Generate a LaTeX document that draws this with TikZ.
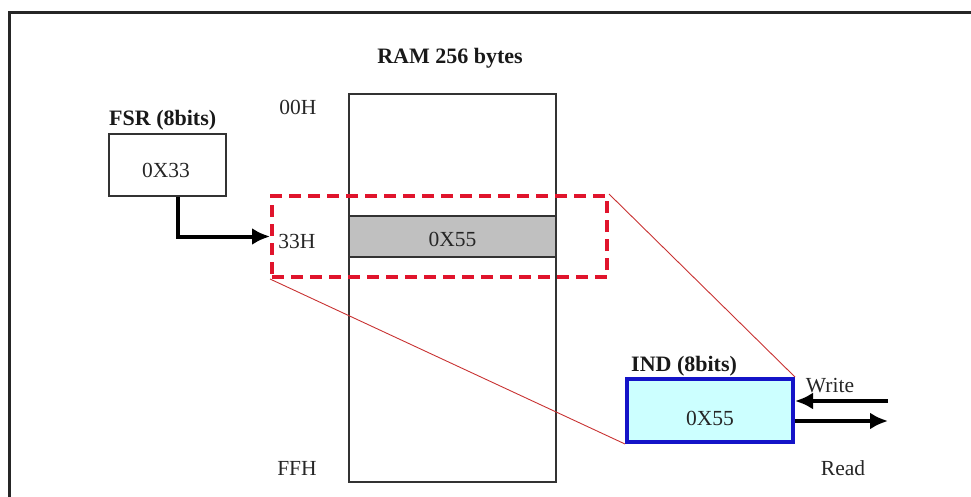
\documentclass[tikz,border=0pt]{standalone}
\usepackage{fontspec}
\setmainfont{Liberation Serif}
\usetikzlibrary{arrows.meta,positioning}
\definecolor{selred}{HTML}{E0142C}
\definecolor{thinred}{HTML}{C83232}
\definecolor{indblue}{HTML}{1414C8}
\definecolor{indfill}{HTML}{CCFFFF}
\definecolor{cellgray}{HTML}{C0C0C0}
\tikzset{
  txt/.style={font=\fontsize{21.5}{24}\selectfont, inner sep=0pt, text=black!85},
  btxt/.style={font=\fontsize{22}{25}\selectfont\bfseries, inner sep=0pt, text=black!90},
  box/.style={draw=black!80, line width=1.3pt, inner sep=0pt},
  fatarrow/.style={line width=4pt, -{Latex[length=18pt,width=17pt]}},
}
\begin{document}
\begin{tikzpicture}[x=1pt,y=-1pt]
\useasboundingbox (0,0) rectangle (971,497);
% frame
\draw[line width=3pt, black!85] (9,497) -- (9,13) -- (971,13);
% RAM
\node[box, minimum width=207pt, minimum height=388pt] (ram) at (452.5,288) {};
\node[box, fill=cellgray, minimum width=207pt, minimum height=41pt] (cell) at (452.5,236.5) {};
\node[txt] (cellv) at (452.5,239) {0X55};
\node[btxt] (ramlbl) at (450,58) {RAM 256 bytes};
\node[txt] (a00) at (298,107) {00H};
\node[txt] (a33) at (297,241) {33H};
\node[txt] (aff) at (297,468) {FFH};
% FSR
\node[box, minimum width=117pt, minimum height=62pt] (fsr) at (167.5,165) {};
\node[txt] (fsrv) at (166,170) {0X33};
\node[btxt, anchor=west] (fsrlbl) at (109,120) {FSR (8bits)};
% selection
\node[draw=selred, line width=4pt, dash pattern=on 12pt off 7pt, minimum width=335pt, minimum height=81pt, inner sep=0pt] (sel) at (439.5,236.5) {};
% IND
\node[draw=indblue, fill=indfill, line width=4pt, minimum width=166pt, minimum height=63pt, inner sep=0pt] (ind) at (710,410.5) {};
\node[txt] (indv) at (710,418) {0X55};
\node[btxt, anchor=west] (indlbl) at (631,366) {IND (8bits)};
% thin red connectors
\draw[thinred, line width=0.9pt] (sel.north east) -- (ind.north east);
\draw[thinred, line width=0.9pt] (sel.south west) -- (ind.south west);
% FSR arrow
\draw[fatarrow] ([xshift=10.5pt]fsr.south) |- (sel.west);
% write / read
\coordinate (w) at (888,401);
\coordinate (r) at (888,421);
\draw[fatarrow] (w) -- (ind.east |- w);
\draw[fatarrow] (ind.east |- r) -- (r);
\node[txt] (wlbl) at (830,386) {Write};
\node[txt] (rlbl) at (843,468) {Read};
\end{tikzpicture}
\end{document}
